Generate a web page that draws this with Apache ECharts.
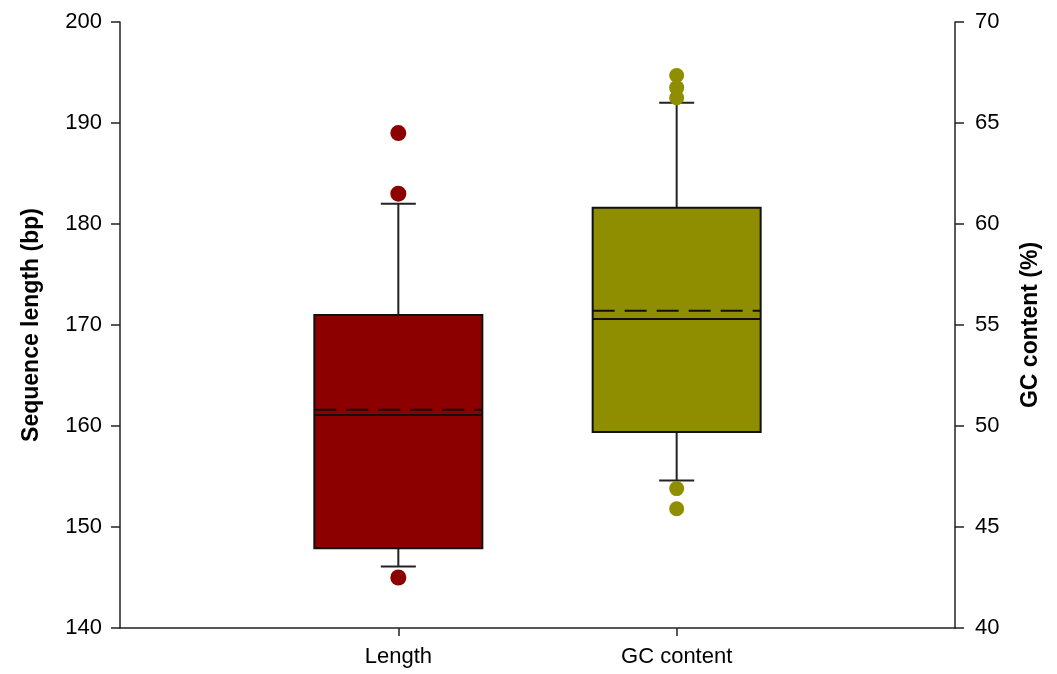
<!DOCTYPE html>
<html>
<head>
<meta charset="utf-8">
<script src="https://cdn.jsdelivr.net/npm/echarts@6/dist/echarts.min.js"></script>
<style>
html,body{margin:0;padding:0;background:#fff;}
#chart{width:1057px;height:674px;}
</style>
</head>
<body>
<div id="chart"></div>
<script>
// ---- data ----
const categories = ['', 'Length', 'GC content', ''];
// [category, min whisker, Q1, median, Q3, max whisker, mean]
const lengthBox = ['Length', 146.1, 147.9, 161.1, 171.0, 182.0, 161.6];
const gcBox = ['GC content', 47.3, 49.7, 55.3, 60.8, 66.0, 55.7];
const lengthOutliers = [145.0, 183.0, 189.0];
const gcOutliers = [45.9, 46.9, 66.25, 66.75, 67.35];
const leftTicks = { min: 140, max: 200, interval: 10 };
const rightTicks = { min: 40, max: 70, interval: 5 };

const RED = '#8c0000';
const OLIVE = '#8e8e00';
const BOX_W = 168;
const CAP_W = 35;
const FONT = '"Liberation Sans", Arial, Helvetica, sans-serif';

function makeRender(color) {
  return function (params, api) {
    const x = api.value(0);
    const pMin = api.coord([x, api.value(1)]);
    const pQ1 = api.coord([x, api.value(2)]);
    const pMed = api.coord([x, api.value(3)]);
    const pQ3 = api.coord([x, api.value(4)]);
    const pMax = api.coord([x, api.value(5)]);
    const pMean = api.coord([x, api.value(6)]);
    const cx = pMed[0], hw = BOX_W / 2, cw = CAP_W / 2;
    const line = (x1, y1, x2, y2, extra) => ({
      type: 'line', shape: { x1, y1, x2, y2 },
      style: Object.assign({ stroke: '#222', lineWidth: 2 }, extra || {})
    });
    return {
      type: 'group',
      children: [
        line(cx, pMax[1], cx, pQ3[1]),
        line(cx, pQ1[1], cx, pMin[1]),
        line(cx - cw, pMax[1], cx + cw, pMax[1]),
        line(cx - cw, pMin[1], cx + cw, pMin[1]),
        { type: 'rect', shape: { x: cx - hw, y: pQ3[1], width: 2 * hw, height: pQ1[1] - pQ3[1] },
          style: { fill: color, stroke: '#111', lineWidth: 2 } },
        line(cx - hw, pMed[1], cx + hw, pMed[1], { stroke: '#111' }),
        line(cx - hw, pMean[1], cx + hw, pMean[1], { stroke: '#111', lineDash: [22, 10] })
      ]
    };
  };
}

const chart = echarts.init(document.getElementById('chart'), null, { renderer: 'canvas' });
const axisLineStyle = { color: '#222', width: 1.5 };
const labelStyle = { color: '#000', fontSize: 22, fontFamily: FONT };
const nameStyle = { color: '#000', fontSize: 23, fontWeight: 'bold', fontFamily: FONT };

chart.setOption({
  animation: false,
  backgroundColor: '#fff',
  grid: { left: 120, right: 102, top: 22, bottom: 46, containLabel: false },
  xAxis: {
    type: 'category',
    data: categories,
    boundaryGap: false,
    axisLine: { lineStyle: axisLineStyle },
    axisTick: { show: true, length: 8, lineStyle: axisLineStyle,
      interval: function (i, v) { return v !== ''; } },
    axisLabel: Object.assign({ interval: 0, margin: 18 }, labelStyle),
    splitLine: { show: false }
  },
  yAxis: [
    {
      type: 'value', position: 'left',
      min: leftTicks.min, max: leftTicks.max, interval: leftTicks.interval,
      name: 'Sequence length (bp)', nameLocation: 'middle', nameRotate: 90, nameGap: 77,
      nameTextStyle: nameStyle,
      axisLine: { show: true, lineStyle: axisLineStyle },
      axisTick: { show: true, length: 9, lineStyle: axisLineStyle },
      axisLabel: Object.assign({ margin: 18 }, labelStyle),
      splitLine: { show: false }
    },
    {
      type: 'value', position: 'right',
      min: rightTicks.min, max: rightTicks.max, interval: rightTicks.interval,
      name: 'GC content (%)', nameLocation: 'middle', nameRotate: 90, nameGap: 64,
      nameTextStyle: nameStyle,
      axisLine: { show: true, lineStyle: axisLineStyle },
      axisTick: { show: true, length: 9, lineStyle: axisLineStyle },
      axisLabel: Object.assign({ margin: 20 }, labelStyle),
      splitLine: { show: false }
    }
  ],
  series: [
    {
      type: 'custom', name: 'Length', xAxisIndex: 0, yAxisIndex: 0,
      renderItem: makeRender(RED),
      encode: { x: 0, y: [1, 2, 3, 4, 5, 6] },
      data: [lengthBox], z: 2
    },
    {
      type: 'custom', name: 'GC content', xAxisIndex: 0, yAxisIndex: 1,
      renderItem: makeRender(OLIVE),
      encode: { x: 0, y: [1, 2, 3, 4, 5, 6] },
      data: [gcBox], z: 2
    },
    {
      type: 'scatter', xAxisIndex: 0, yAxisIndex: 0, symbolSize: 16,
      itemStyle: { color: RED, opacity: 1 },
      data: lengthOutliers.map(v => [lengthBox[0], v]), z: 3
    },
    {
      type: 'scatter', xAxisIndex: 0, yAxisIndex: 1, symbolSize: 15,
      itemStyle: { color: OLIVE, opacity: 1 },
      data: gcOutliers.map(v => [gcBox[0], v]), z: 3
    }
  ]
});
</script>
</body>
</html>
